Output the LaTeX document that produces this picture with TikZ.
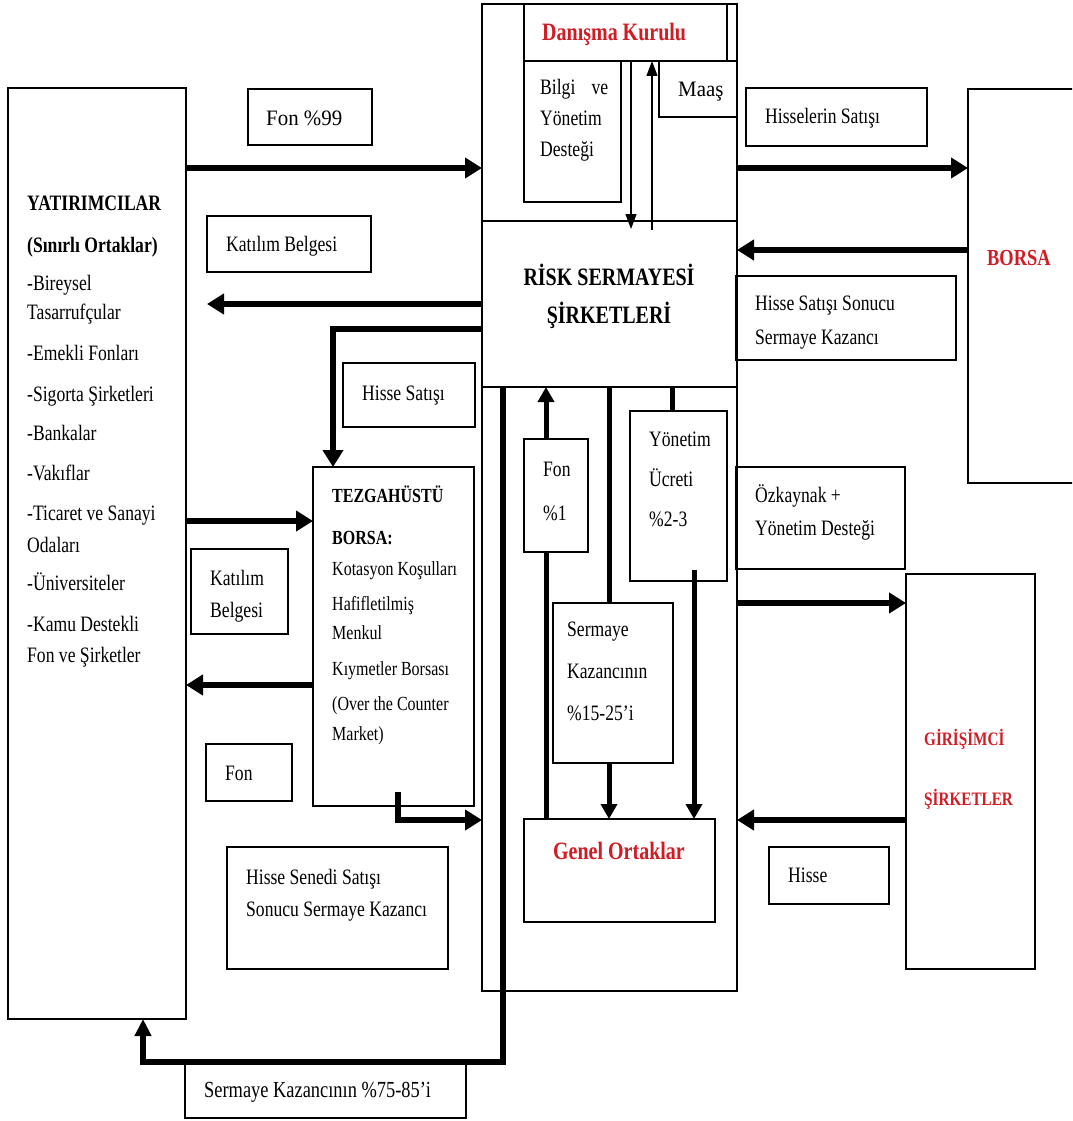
\documentclass[tikz,border=0pt]{standalone}
\usepackage{fontspec}
\setmainfont{Liberation Serif}[FakeStretch=0.8]
\newfontfamily\widerfont{Liberation Serif}[FakeStretch=0.95]
\usetikzlibrary{arrows.meta,calc}
\definecolor{tred}{RGB}{210,28,36}
\newcommand\bxx[5]{\node[box, minimum width={#4pt-#2pt}, minimum height={#5pt-#3pt}] (#1) at (#2,#3) {};}
\begin{document}
\begin{tikzpicture}[x=1pt,y=-1pt,
  box/.style={draw, line width=1.3pt, inner sep=0pt, outer sep=0pt, anchor=north west},
  txt/.style={inner sep=0pt, anchor=base west, font=\fontsize{22}{26}\selectfont},
  tez/.style={inner sep=0pt, anchor=base west, font=\fontsize{20}{24}\selectfont},
  ttl/.style={inner sep=0pt, anchor=base, font=\fontsize{25}{30}\selectfont\bfseries},
  big/.style={-{Triangle[length=17pt,width=20pt]}, line width=6.5pt},
  mid/.style={-{Triangle[length=15pt,width=16pt]}, line width=5pt},
  bar/.style={line width=5pt},
  thinarr/.style={-{Triangle[length=15pt,width=11pt]}, line width=1.3pt}]
\clip (0,0) rectangle (1072,1121);
\fill[white] (0,0) rectangle (1072,1121);
% level coordinates
\coordinate (y168) at (0,168);
\coordinate (y250) at (0,250);
\coordinate (y304) at (0,304);
\coordinate (y329) at (0,329);
\coordinate (y521) at (0,521);
\coordinate (y603) at (0,603);
\coordinate (y685) at (0,685);
\coordinate (y820) at (0,820);
% boxes
\bxx{yat}{8}{88}{186}{1019}
\bxx{fon99}{248}{89}{372}{145}
\bxx{kat1}{207}{216}{371}{272}
\bxx{hsat}{343}{363}{475}{427}
\bxx{tez}{313}{467}{474}{806}
\bxx{kat2}{191}{549}{288}{634}
\bxx{fonl}{206}{744}{292}{801}
\bxx{hsen}{227}{847}{448}{969}
\bxx{sk7585}{185}{1062}{466}{1118}
\bxx{outer}{482}{4}{737}{991}
\bxx{danisma}{524}{4}{727}{61}
\bxx{bilgi}{524}{61}{621}{202}
\bxx{maas}{659}{61}{737}{117}
\bxx{rss}{482}{221}{737}{387}
\bxx{fon1}{524}{439}{588}{552}
\bxx{yon}{630}{411}{727}{581}
\bxx{serm}{553}{603}{673}{763}
\bxx{genel}{524}{819}{715}{922}
\bxx{hisr}{746}{88}{927}{146}
\bxx{borsa}{968}{89}{1090}{483}
\bxx{hss}{736}{276}{956}{360}
\bxx{ozk}{736}{467}{905}{569}
\bxx{gir}{906}{574}{1035}{969}
\bxx{hisse}{769}{847}{889}{904}
% texts: investors
\node[txt, font=\fontsize{22}{26}\selectfont\bfseries] (t-yat1) at (27,210) {YATIRIMCILAR};
\node[txt, font=\fontsize{22}{26}\selectfont\bfseries] (t-yat2) at (27,252) {(Sınırlı Ortaklar)};
\node[txt] (t-yat3) at (27,290) {-Bireysel};
\node[txt] (t-yat4) at (27,319) {Tasarrufçular};
\node[txt] (t-yat5) at (27,360) {-Emekli Fonları};
\node[txt] (t-yat6) at (27,401) {-Sigorta Şirketleri};
\node[txt] (t-yat7) at (27,440) {-Bankalar};
\node[txt] (t-yat8) at (27,480) {-Vakıflar};
\node[txt] (t-yat9) at (27,520) {-Ticaret ve Sanayi};
\node[txt] (t-yat10) at (27,552) {Odaları};
\node[txt] (t-yat11) at (27,590) {-Üniversiteler};
\node[txt] (t-yat12) at (27,631) {-Kamu Destekli};
\node[txt] (t-yat13) at (27,662) {Fon ve Şirketler};
% left labels
\node[txt, font=\fontsize{22}{26}\widerfont] (t-fon99) at (266,125) {Fon \%99};
\node[txt] (t-kat1) at (226,251) {Katılım Belgesi};
\node[txt] (t-hsat) at (362,400) {Hisse Satışı};
\node[txt] (t-kat2a) at (210,585) {Katılım};
\node[txt] (t-kat2b) at (210,617) {Belgesi};
\node[txt] (t-fonl) at (225,780) {Fon};
\node[txt] (t-hsen1) at (246,884) {Hisse Senedi Satışı};
\node[txt] (t-hsen2) at (246,916) {Sonucu Sermaye Kazancı};
\node[txt, font=\fontsize{23}{27}\selectfont] (t-sk) at (204,1097) {Sermaye Kazancının \%75-85’i};
% OTC box
\node[tez, font=\fontsize{20}{24}\selectfont\bfseries] (t-tez1) at (332,502) {TEZGAHÜSTÜ};
\node[tez, font=\fontsize{20}{24}\selectfont\bfseries] (t-tez2) at (332,544) {BORSA:};
\node[tez] (t-tez3) at (332,575) {Kotasyon Koşulları};
\node[tez] (t-tez4) at (332,610) {Hafifletilmiş};
\node[tez] (t-tez5) at (332,639) {Menkul};
\node[tez] (t-tez6) at (332,675) {Kıymetler Borsası};
\node[tez] (t-tez7) at (332,710) {(Over the Counter};
\node[tez] (t-tez8) at (332,740) {Market)};
% centre column
\node[txt, font=\fontsize{25}{30}\selectfont\bfseries, text=tred] (t-dan) at (542,41) {Danışma Kurulu};
\node[txt] (t-bil1) at (540,95) {\hbox to 68pt{Bilgi\hfil ve}};
\node[txt] (t-bil2) at (540,125) {Yönetim};
\node[txt] (t-bil3) at (540,156) {Desteği};
\node[txt, font=\fontsize{22}{26}\widerfont] (t-maas) at (678,97) {Maaş};
\node[ttl] (t-rss1) at (609,285) {RİSK SERMAYESİ};
\node[ttl] (t-rss2) at (609,323) {ŞİRKETLERİ};
\node[txt] (t-fon1a) at (543,476) {Fon};
\node[txt] (t-fon1b) at (543,520) {\%1};
\node[txt] (t-yon1) at (649,446) {Yönetim};
\node[txt] (t-yon2) at (649,486) {Ücreti};
\node[txt] (t-yon3) at (649,526) {\%2-3};
\node[txt] (t-ser1) at (567,636) {Sermaye};
\node[txt] (t-ser2) at (567,678) {Kazancının};
\node[txt] (t-ser3) at (567,720) {\%15-25’i};
\node[ttl, text=tred] (t-gen) at (619,859) {Genel Ortaklar};
% right side
\node[txt] (t-hisr) at (765,124) {Hisselerin Satışı};
\node[txt, font=\fontsize{23}{28}\selectfont\bfseries, text=tred] (t-borsa) at (987,265) {BORSA};
\node[txt] (t-hss1) at (755,310) {Hisse Satışı Sonucu};
\node[txt] (t-hss2) at (755,344) {Sermaye Kazancı};
\node[txt] (t-ozk1) at (755,502) {Özkaynak +};
\node[txt] (t-ozk2) at (755,535) {Yönetim Desteği};
\node[txt, font=\fontsize{19}{23}\selectfont\bfseries, text=tred] (t-gir1) at (924,745) {GİRİŞİMCİ};
\node[txt, font=\fontsize{19}{23}\selectfont\bfseries, text=tred] (t-gir2) at (924,805) {ŞİRKETLER};
\node[txt] (t-hisse) at (788,882) {Hisse};
% left connectors
\draw[big] (yat.east |- y168) -- (outer.west |- y168);
\draw[big] (outer.west |- y304) -- (kat1.west |- y304);
\draw[big] (outer.west |- y329) -| ($(tez.north west)+(20,0)$);
\draw[big] (yat.east |- y521) -- (tez.west |- y521);
\draw[big] (tez.west |- y685) -- (yat.east |- y685);
\draw[big] ($(tez.south west)+(85,-14)$) |- (outer.west |- y820);
\draw[-{Triangle[length=17pt,width=16pt]}, line width=6pt] ($(rss.south west)+(21,0)$) |- ($(sk7585.north west)+(-42,0)$) -- ($(yat.south west)+(135,0)$);
% centre connectors
\draw[thinarr] ($(danisma.south west)+(107,0)$) -- ($(rss.north west)+(149,8)$);
\draw[thinarr] ($(rss.north west)+(170,9)$) -- ($(danisma.south west)+(128,0)$);
\draw[mid] ($(fon1.north west)+(22,0)$) -- ($(rss.south west)+(64,0)$);
\draw[bar] ($(genel.north west)+(22,0)$) -- ($(fon1.south west)+(22,0)$);
\draw[bar] ($(rss.south west)+(127,0)$) -- ($(serm.north west)+(56,0)$);
\draw[mid] ($(serm.south west)+(56,0)$) -- ($(genel.north west)+(85,0)$);
\draw[bar] ($(rss.south west)+(190,0)$) -- ($(yon.north west)+(42,0)$);
\draw[mid] ($(yon.south west)+(64,-11)$) -- ($(genel.north west)+(170,0)$);
% right connectors
\draw[big] (outer.east |- y168) -- (borsa.west |- y168);
\draw[big] (borsa.west |- y250) -- (outer.east |- y250);
\draw[big] (outer.east |- y603) -- (gir.west |- y603);
\draw[big] (gir.west |- y820) -- (outer.east |- y820);
\end{tikzpicture}
\end{document}
